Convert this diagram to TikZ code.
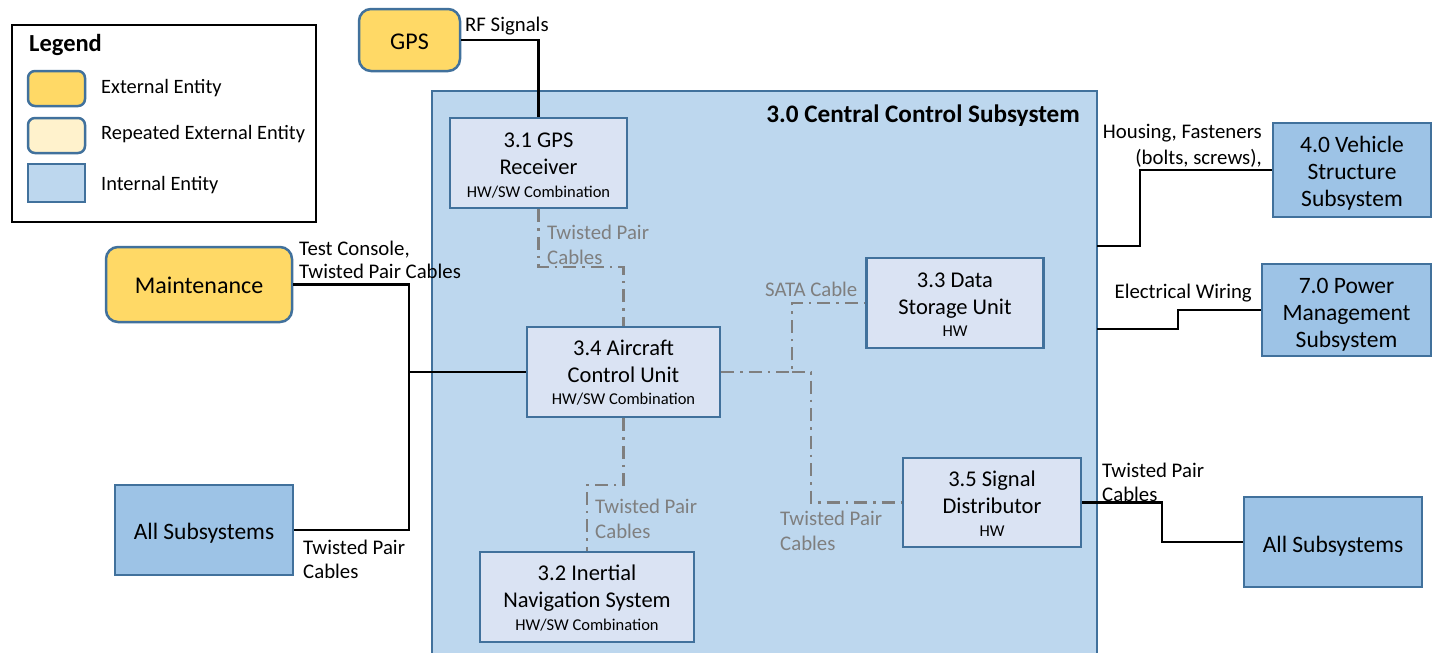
\documentclass[tikz,border=0pt]{standalone}
\usepackage{fontspec}
\setmainfont{Carlito}
\definecolor{extyellow}{HTML}{FFD966}
\definecolor{repyellow}{HTML}{FFF2CC}
\definecolor{intblue}{HTML}{9DC3E6}
\definecolor{ccsfill}{HTML}{BDD7EE}
\definecolor{subfill}{HTML}{DAE3F3}
\definecolor{edgeblue}{HTML}{41719C}
\definecolor{cablegrey}{HTML}{7F7F7F}
\newcommand\fsz[2]{\fontsize{#1}{#2}\selectfont}
\newcommand\hwtag{\fsz{16.5}{20}}
% invisible strut that lowers the text block inside its box
\newcommand\lift[1]{\rule{0pt}{#1}}
\begin{document}
\begin{tikzpicture}[x=1pt,y=-1pt,
  extbox/.style={draw=edgeblue, line width=2.5pt, fill=extyellow, rounded corners=12pt, inner sep=0pt, font=\fsz{24}{29}},
  intbox/.style={draw=edgeblue, line width=2.5pt, fill=intblue, inner sep=0pt, align=center, font=\fsz{23.5}{27}},
  subbox/.style={draw=edgeblue, line width=2.5pt, fill=subfill, inner sep=0pt, align=center, font=\fsz{22.5}{27}},
  lbl/.style={inner sep=0pt, font=\fsz{20.8}{23}},
  glbl/.style={inner sep=0pt, text=cablegrey, font=\fsz{20.8}{25}},
  wire/.style={draw=black, line width=2.8pt},
  cable/.style={draw=cablegrey, line width=2.8pt, dash pattern=on 13pt off 6pt on 2.5pt off 6pt},
]
\clip (0,0) rectangle (1433,653);
\fill[white] (0,0) rectangle (1433,653);

% ---- legend ----
\node[draw=black, line width=2.5pt, minimum width=304pt, minimum height=197pt, inner sep=0pt] (legend) at (164,123.5) {};
\node[anchor=west, inner sep=0pt, font=\bfseries\fsz{24.5}{28}] (legtitle) at (29,45) {Legend};
\node[draw=edgeblue, line width=2.5pt, fill=extyellow, rounded corners=7pt, minimum width=57pt, minimum height=35pt] (sw1) at (56.5,88.5) {};
\node[draw=edgeblue, line width=2.5pt, fill=repyellow, rounded corners=7pt, minimum width=57pt, minimum height=35pt] (sw2) at (56.5,135.5) {};
\node[draw=edgeblue, line width=2.5pt, fill=ccsfill, minimum width=57pt, minimum height=38pt] (sw3) at (56.5,183) {};
\node[anchor=west, inner sep=0pt, font=\fsz{20.4}{24}] (lt1) at (101,88) {External Entity};
\node[anchor=west, inner sep=0pt, font=\fsz{20.4}{24}] (lt2) at (101,134) {Repeated External Entity};
\node[anchor=west, inner sep=0pt, font=\fsz{20.4}{24}] (lt3) at (101,185) {Internal Entity};

% ---- central control subsystem ----
\node[draw=edgeblue, line width=2.5pt, fill=ccsfill, minimum width=665pt, minimum height=574pt, inner sep=0pt] (ccs) at (764.5,378) {};
\node[anchor=east, inner sep=0pt, font=\bfseries\fsz{25.2}{29}] (ccstitle) at (1080,116) {3.0 Central Control Subsystem};

\node[subbox, minimum width=177pt, minimum height=90pt] (gpsr) at (538.5,163)
  {\lift{20pt}3.1 GPS\\Receiver\\[-4.5pt]{\hwtag HW/SW Combination}};
\node[subbox, minimum width=193pt, minimum height=90pt] (acu) at (623.5,372)
  {\lift{16.5pt}3.4 Aircraft\\Control Unit\\[-4.5pt]{\hwtag HW/SW Combination}};
\node[subbox, minimum width=177pt, minimum height=90pt] (dsu) at (955,303)
  {\lift{17.5pt}3.3 Data\\Storage Unit\\[-4.5pt]{\hwtag HW}};
\node[subbox, minimum width=178pt, minimum height=89pt] (sdist) at (992,502.5)
  {\lift{18pt}3.5 Signal\\Distributor\\[-4.5pt]{\hwtag HW}};
\node[subbox, minimum width=214pt, minimum height=90pt] (ins) at (587,597)
  {\lift{18pt}3.2 Inertial\\Navigation System\\[-4.5pt]{\hwtag HW/SW Combination}};

% ---- external entities ----
\node[extbox, minimum width=101pt, minimum height=62pt] (gps) at (409.5,40) {\lift{20pt}GPS};
\node[extbox, minimum width=186pt, minimum height=75pt] (maint) at (199,284.5) {\lift{18pt}Maintenance};
\node[intbox, minimum width=178pt, minimum height=90pt] (allL) at (204,530) {\lift{22pt}All Subsystems};
\node[intbox, minimum width=158pt, minimum height=94pt] (veh) at (1352,170) {\lift{22.5pt}4.0 Vehicle\\Structure\\Subsystem};
\node[intbox, minimum width=169pt, minimum height=92pt] (pwr) at (1346.5,310) {\lift{25pt}7.0 Power\\Management\\Subsystem};
\node[intbox, minimum width=178pt, minimum height=90pt] (allR) at (1333,542) {\lift{25pt}All Subsystems};

% ---- internal cables ----
\coordinate (kGps) at (538.5,267);
\coordinate (kSata) at (792,372);
\coordinate (kSig) at (811,372);
\coordinate (kIns) at (623.5,485);
\draw[cable] (gpsr.south) -- (kGps) -| (acu.north);
\draw[cable] (acu.east) -- (kSata) |- (dsu.west);
\draw[cable] (kSata) -- (kSig) |- (sdist.west);
\draw[cable] (acu.south) -- (kIns) -| (ins.north);
\node[glbl, anchor=west, align=left] (l31) at (547,245) {Twisted Pair\\Cables};
\node[glbl, anchor=west] (lsata) at (765,289) {SATA Cable};
\node[glbl, anchor=west, align=left] (l35) at (780,531) {Twisted Pair\\Cables};
\node[glbl, anchor=west, align=left] (l32) at (595,519) {Twisted Pair\\Cables};

% ---- external wiring ----
\coordinate (jL) at (409,372);
\draw[wire] (gps.east) -| (gpsr.north);
\draw[wire] (maint.east) -| (jL) |- (allL.east);
\draw[wire] (jL) -- (acu.west);
\coordinate (pVeh) at (1097,246);
\coordinate (pPwr) at (1097,329);
\draw[wire] (pVeh) -- (1140,246) |- (veh.west);
\draw[wire] (pPwr) -- (1178,329) |- (pwr.west);
\draw[wire] (sdist.east) -- (1162,502.5) |- (allR.west);

\node[lbl, anchor=west] (lrf) at (465,26) {RF Signals};
\node[lbl, anchor=west, align=left] (ltc) at (299,260) {Test Console,\\Twisted Pair Cables};
\node[lbl, anchor=west, align=left, font=\fsz{20.8}{24}] (ltpL) at (303,559) {Twisted Pair\\Cables};
\node[lbl, anchor=east, align=right, font=\fsz{20.8}{26}] (lhf) at (1262,146) {Housing, Fasteners\\(bolts, screws),};
\node[lbl, anchor=east] (lew) at (1252,293) {Electrical Wiring};
\node[lbl, anchor=west, align=left, font=\fsz{20.8}{24}] (ltpR) at (1102,482) {Twisted Pair\\Cables};
\end{tikzpicture}
\end{document}
